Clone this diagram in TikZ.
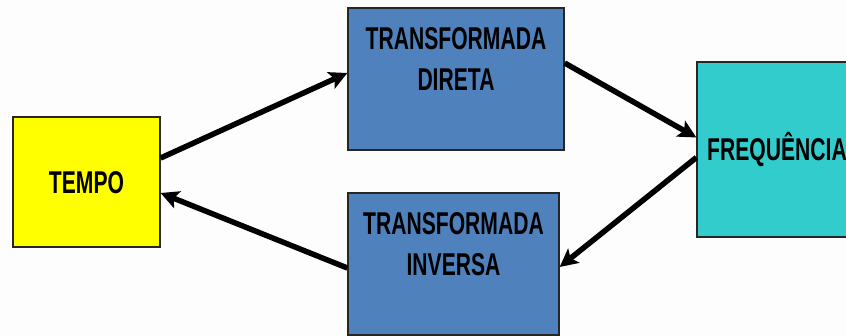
\documentclass[tikz,border=0pt]{standalone}
\usepackage{fontspec}
\setmainfont{Liberation Sans}[FakeStretch=0.67]
\usepackage{tikz}
\usetikzlibrary{arrows.meta,calc}
\definecolor{bgwhite}{RGB}{253,253,253}
\definecolor{tempoyellow}{RGB}{255,255,0}
\definecolor{transfblue}{RGB}{79,129,189}
\definecolor{freqcyan}{RGB}{51,204,204}
\tikzset{
  block/.style={draw=black!85, line width=1.3pt, inner sep=0pt, align=center,
                font=\fontsize{31.5}{40}\selectfont\bfseries,
                text height=22.5pt, text depth=0pt},
  lbl/.style={align=center, inner sep=0pt, font=\fontsize{31.5}{41}\selectfont\bfseries},
  flow/.style={-{Stealth[length=18pt,width=18pt,inset=4pt]}, line width=5.5pt},
}

\begin{document}
\begin{tikzpicture}[x=1pt,y=-1pt]
  \useasboundingbox (0,0) rectangle (846,335);
  \fill[bgwhite] (0,0) rectangle (846,335);
  \clip (0,0) rectangle (846,335);
  % boxes
  \node[block, fill=tempoyellow, minimum width=147pt, minimum height=130pt] (tempo) at (86.5,182) {TEMPO};
  \node[block, fill=transfblue, minimum width=216pt, minimum height=142pt] (direta) at (456,79) {};
  \node[block, fill=freqcyan, minimum width=160pt, minimum height=175pt] (freq) at (777,149.5) {FREQUÊNCIA};
  \node[block, fill=transfblue, minimum width=211pt, minimum height=142pt] (inversa) at (453.5,264) {};
  \node[lbl] (diretaTxt) at ($(direta.center)+(0,-20)$) {TRANSFORMADA\\DIRETA};
  \node[lbl] (inversaTxt) at ($(inversa.center)+(0,-20)$) {TRANSFORMADA\\INVERSA};
  % arrows
  \draw[flow] ($(tempo.east)+(0,-24)$) -- ($(direta.west)+(0,-6)$);
  \draw[flow] ($(direta.east)+(0,-16)$) -- ($(freq.west)+(0,-12)$);
  \draw[flow] ($(freq.west)+(0,8)$) -- ($(inversa.east)+(0,3)$);
  \draw[flow] ($(inversa.west)+(0,4)$) -- ($(tempo.east)+(0,11)$);
\end{tikzpicture}
\end{document}
